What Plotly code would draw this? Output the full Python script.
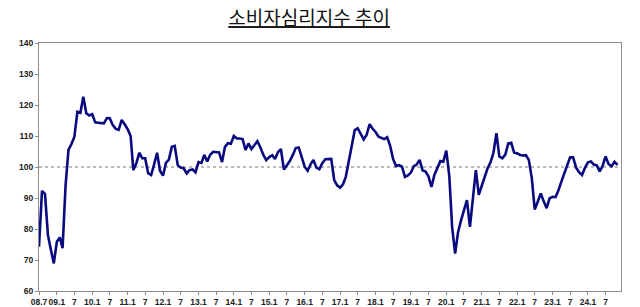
import plotly.graph_objects as go
import pandas as pd

start_month = "2008-07-01"

v2008 = [74.3, 92.3, 91.3, 78.1, 73.2, 68.9]
v2009 = [75.9, 77.3, 73.8, 94.0, 105.5, 107.4, 109.8, 117.8, 117.5, 122.7, 117.3, 116.6]
v2010 = [117.0, 114.4, 114.3, 114.1, 114.1, 115.8, 115.7, 113.5, 112.3, 112.0, 115.2, 113.8]
v2011 = [112.2, 110.0, 99.0, 101.2, 104.6, 102.8, 102.8, 98.0, 97.4, 100.8, 104.6, 98.8]
v2012 = [97.2, 101.4, 102.3, 106.5, 106.8, 100.6, 99.8, 99.6, 97.9, 99.0, 99.2, 98.3]
v2013 = [101.6, 101.3, 103.9, 101.8, 103.9, 104.9, 104.9, 104.7, 101.6, 106.5, 107.7, 107.5]
v2014 = [110.0, 109.2, 109.2, 109.0, 105.5, 107.6, 105.8, 107.2, 108.3, 106.4, 103.9, 102.2]
v2015 = [103.2, 103.8, 102.6, 104.8, 105.8, 99.2, 100.6, 101.9, 103.9, 106.1, 106.3, 102.9]
v2016 = [100.1, 98.8, 100.8, 102.3, 99.8, 99.3, 101.2, 102.5, 102.6, 102.6, 95.8, 94.1]
v2017 = [93.3, 94.5, 96.9, 101.9, 107.6, 111.9, 112.5, 110.5, 108.9, 110.3, 113.8, 112.4]
v2018 = [111.3, 109.8, 109.5, 109.0, 109.6, 106.8, 102.6, 100.3, 100.6, 100.1, 96.8, 97.3]
v2019 = [98.2, 100.3, 100.8, 102.3, 98.9, 98.5, 97.0, 93.6, 97.5, 99.7, 101.9, 101.7]
v2020 = [105.3, 97.1, 80.7, 72.1, 78.9, 82.8, 86.1, 89.3, 80.7, 91.0, 99.0, 91.0]
v2021 = [94.0, 96.5, 99.5, 101.5, 104.5, 110.9, 103.4, 102.8, 104.0, 107.6, 107.8, 104.6]
v2022 = [104.4, 103.9, 103.7, 103.8, 102.3, 96.4, 86.3, 88.8, 91.5, 89.0, 86.7, 89.9]
v2023 = [90.4, 90.3, 92.3, 95.2, 97.8, 100.6, 103.1, 103.1, 99.8, 98.3, 97.4, 99.7]
v2024 = [101.5, 101.8, 100.8, 100.5, 98.6, 100.4, 103.4, 101.0, 100.2, 101.7, 100.7]

values = (v2008 + v2009 + v2010 + v2011 + v2012 + v2013 + v2014 + v2015 + v2016
          + v2017 + v2018 + v2019 + v2020 + v2021 + v2022 + v2023 + v2024)
months = pd.date_range(start_month, periods=len(values), freq="MS")

tick_dates = pd.date_range("2008-07-01", "2024-07-01", freq="6MS")
tick_labels = ["08.7"] + [
    (f"{d.year % 100:02d}.1" if d.month == 1 else "7") for d in tick_dates[1:]
]
y_ticks = [60, 70, 80, 90, 100, 110, 120, 130, 140]

fig = go.Figure()
fig.add_trace(go.Scatter(
    x=months, y=values, mode="lines",
    line=dict(color="#0a0a80", width=2.6),
    hoverinfo="skip", showlegend=False,
))

fig.add_shape(type="line", xref="paper", yref="y", x0=0, x1=1, y0=100, y1=100,
              line=dict(color="#555555", width=0.8, dash="dot"), layer="below")

tick_font = dict(family="Liberation Sans", size=8.5, color="#222222", weight="bold")

fig.update_layout(
    width=640, height=307,
    margin=dict(l=39, r=19, t=43, b=16, autoexpand=False),
    paper_bgcolor="white", plot_bgcolor="white",
    title=dict(
        text="<u>소비자심리지수 추이</u>",
        x=0.483, xanchor="center", y=0.94, yanchor="middle",
        font=dict(family="Noto Sans CJK KR", size=19, color="#111111"),
        automargin=False,
    ),
    xaxis=dict(
        type="date", automargin=False,
        range=["2008-07-01", "2024-12-07"],
        tickvals=tick_dates, ticktext=tick_labels,
        showgrid=False, zeroline=False,
        showline=True, linecolor="#8c8c8c", linewidth=1, mirror=True,
        ticks="outside", ticklen=3, tickcolor="#8c8c8c",
        tickfont=tick_font, tickangle=0,
    ),
    yaxis=dict(
        range=[60, 140], automargin=False,
        tickvals=y_ticks,
        showgrid=False, zeroline=False,
        showline=True, linecolor="#8c8c8c", linewidth=1, mirror=True,
        ticks="outside", ticklen=3, tickcolor="#8c8c8c",
        tickfont=tick_font,
    ),
)

fig.write_html("out.html")
